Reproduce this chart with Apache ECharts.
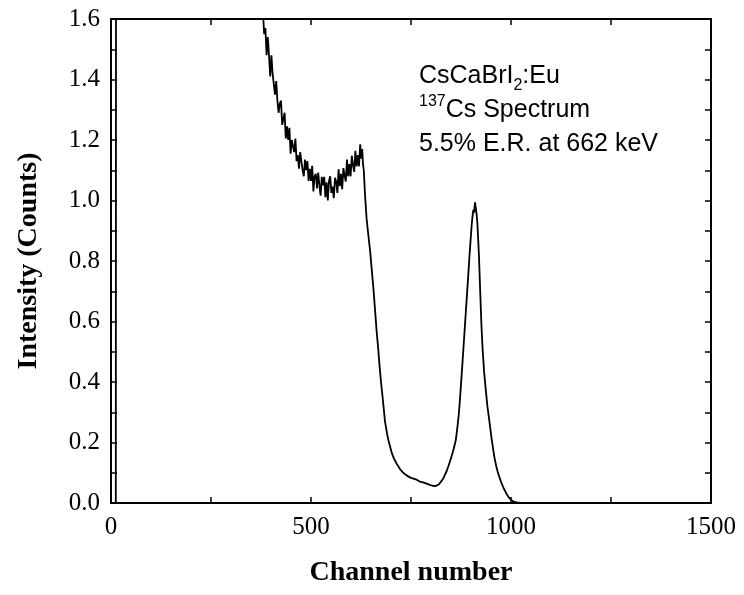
<!DOCTYPE html>
<html>
<head>
<meta charset="utf-8">
<script src="https://cdn.jsdelivr.net/npm/echarts@6/dist/echarts.min.js"></script>
<style>
  html, body { margin: 0; padding: 0; background: #ffffff; }
  #chart { width: 744px; height: 595px; }
</style>
</head>
<body>
<div id="chart"></div>
<script>
// 137Cs pulse-height spectrum of CsCaBrI2:Eu (normalised counts per channel)

// Low-energy region: rises off scale right after the threshold
const lowChannels = [0, 6, 12, 13, 40, 80, 150, 220, 290, 340, 370, 377];
const lowCounts   = [0, 0, 0, 3.4, 3.3, 3.1, 2.7, 2.3, 2.0, 1.8, 1.7, 1.65];

// Compton continuum up to the Compton edge (noisy)
const comptonChannels = [
  380, 383, 386, 389, 392, 395, 398, 401, 404, 407, 410, 413, 416, 419, 422, 425,
  428, 431, 434, 437, 440, 443, 446, 449, 452, 455, 458, 461, 464, 467, 470, 473,
  476, 479, 482, 485, 488, 491, 494, 497, 500, 503, 506, 509, 512, 515, 518, 521,
  524, 527, 530, 533, 536, 539, 542, 545, 548, 551, 554, 557, 560, 563, 566, 569,
  572, 575, 578, 581, 584, 587, 590, 593, 596, 599, 602, 605, 608, 611, 614, 617,
  620, 623, 626, 628
];
const comptonCounts = [
  1.62, 1.55, 1.57, 1.48, 1.54, 1.48, 1.41, 1.48, 1.42, 1.42,
  1.35, 1.395, 1.33, 1.29, 1.32, 1.33, 1.25, 1.27, 1.29, 1.205,
  1.245, 1.20, 1.24, 1.155, 1.20, 1.205, 1.16, 1.205, 1.13, 1.15,
  1.105, 1.16, 1.16, 1.10, 1.08, 1.135, 1.10, 1.13, 1.065, 1.105,
  1.065, 1.115, 1.03, 1.08, 1.088, 1.04, 1.092, 1.05, 1.016, 1.078,
  1.05, 1.078, 1.011, 1.06, 1.0, 1.065, 1.08, 1.025, 1.046, 1.008,
  1.075, 1.062, 1.025, 1.103, 1.047, 1.088, 1.037, 1.107, 1.082, 1.063,
  1.135, 1.08, 1.12, 1.08, 1.148, 1.117, 1.095, 1.164, 1.113, 1.15,
  1.113, 1.186, 1.138, 1.17
];

// Compton edge, valley, 662 keV photopeak and its tail
const peakChannels = [
  630, 632, 635, 639, 643, 648, 652, 656, 660, 664, 668, 671, 675, 679, 682, 685,
  690, 694, 697, 701, 704, 708, 711, 714, 718, 722, 725, 729, 733, 736, 739, 743,
  747, 750, 754, 758, 761, 764, 768, 772, 776, 780, 784, 789, 793, 797, 800, 804,
  808, 812, 816, 820, 824, 827, 831, 835, 839, 843, 848, 852, 857, 862, 866, 870,
  874, 878, 881, 885, 889, 893, 896, 899, 902, 904, 906, 908, 910, 912, 914, 916,
  918, 920, 923, 926, 929, 933, 937, 941, 946, 952, 958, 963, 968, 975, 982, 989,
  996, 1005, 1014, 1025, 1500
];
const peakCounts = [
  1.12, 1.10, 1.02, 0.94, 0.89, 0.83, 0.77, 0.71, 0.64, 0.57, 0.51, 0.46, 0.40, 0.35, 0.31, 0.27,
  0.23, 0.205, 0.19, 0.17, 0.158, 0.145, 0.138, 0.13, 0.122, 0.113, 0.11, 0.102, 0.098, 0.094, 0.092, 0.088,
  0.086, 0.083, 0.08, 0.08, 0.076, 0.077, 0.072, 0.071, 0.069, 0.068, 0.064, 0.064, 0.06, 0.06, 0.057, 0.057,
  0.053, 0.056, 0.054, 0.062, 0.066, 0.074, 0.082, 0.094, 0.105, 0.12, 0.14, 0.157, 0.18, 0.208, 0.25, 0.30,
  0.373, 0.45, 0.51, 0.59, 0.67, 0.75, 0.813, 0.87, 0.924, 0.95, 0.97, 0.96, 0.994, 0.975, 0.955, 0.924,
  0.87, 0.813, 0.70, 0.59, 0.51, 0.43, 0.373, 0.32, 0.27, 0.208, 0.155, 0.122, 0.097, 0.07, 0.048, 0.03,
  0.016, 0.005, 0.002, 0, 0
];

const xRange = [0, 1500];
const yRange = [0, 1.6];
const xStep = 500;
const yStep = 0.2;

const channels = lowChannels.concat(comptonChannels, peakChannels);
const counts = lowCounts.concat(comptonCounts, peakCounts);
const spectrum = channels.map((c, i) => [c, counts[i]]);

const serif = '"Liberation Serif", "Times New Roman", serif';
const sans = '"Liberation Sans", Arial, sans-serif';

function frameAxis(extra) {
  return Object.assign({
    type: 'value',
    axisLine: { show: true, onZero: false, lineStyle: { color: '#000', width: 2 } },
    axisTick: { show: true, inside: true, length: 6, lineStyle: { color: '#000', width: 1.5 } },
    minorTick: { show: true, splitNumber: 2, length: 6, lineStyle: { color: '#000', width: 1.5 } },
    splitLine: { show: false },
    minorSplitLine: { show: false }
  }, extra);
}

const chart = echarts.init(document.getElementById('chart'), null, { renderer: 'canvas' });

chart.setOption({
  animation: false,
  backgroundColor: '#ffffff',
  grid: { left: 111, right: 33, top: 19, bottom: 92, containLabel: false },
  xAxis: [
    frameAxis({
      position: 'bottom',
      min: xRange[0], max: xRange[1], interval: xStep,
      axisLabel: {
        show: true, margin: 12, color: '#000', fontFamily: serif, fontSize: 25,
        formatter: v => String(v)
      },
      name: 'Channel number',
      nameLocation: 'middle',
      nameGap: 56,
      nameTextStyle: { color: '#000', fontFamily: serif, fontSize: 28, fontWeight: 'bold' }
    }),
    frameAxis({
      position: 'top',
      min: xRange[0], max: xRange[1], interval: xStep,
      axisLabel: { show: false }
    })
  ],
  yAxis: [
    frameAxis({
      position: 'left',
      min: yRange[0], max: yRange[1], interval: yStep,
      axisLabel: {
        show: true, margin: 11, color: '#000', fontFamily: serif, fontSize: 25,
        formatter: v => v.toFixed(1)
      },
      name: 'Intensity (Counts)',
      nameLocation: 'middle',
      nameGap: 68,
      nameTextStyle: { color: '#000', fontFamily: serif, fontSize: 28, fontWeight: 'bold' }
    }),
    frameAxis({
      position: 'right',
      min: yRange[0], max: yRange[1], interval: yStep,
      axisLabel: { show: false }
    })
  ],
  series: [{
    type: 'line',
    xAxisIndex: 0,
    yAxisIndex: 0,
    data: spectrum,
    showSymbol: false,
    symbol: 'none',
    clip: true,
    lineStyle: { color: '#000', width: 1.8 }
  }],
  graphic: [{
    type: 'text',
    left: 419,
    top: 64,
    z: 10,
    style: {
      text: '{n|CsCaBrI}{sub|2}{n|:Eu}\n{sup|137}{n|Cs Spectrum}\n{n|5.5% E.R. at 662 keV}',
      fill: '#000',
      fontFamily: sans,
      fontSize: 25,
      rich: {
        n: { fontFamily: sans, fontSize: 25, lineHeight: 34, verticalAlign: 'middle', fill: '#000' },
        sub: { fontFamily: sans, fontSize: 16, lineHeight: 16, verticalAlign: 'bottom', fill: '#000' },
        sup: { fontFamily: sans, fontSize: 16, lineHeight: 16, verticalAlign: 'top', fill: '#000' }
      }
    }
  }]
});
</script>
</body>
</html>
